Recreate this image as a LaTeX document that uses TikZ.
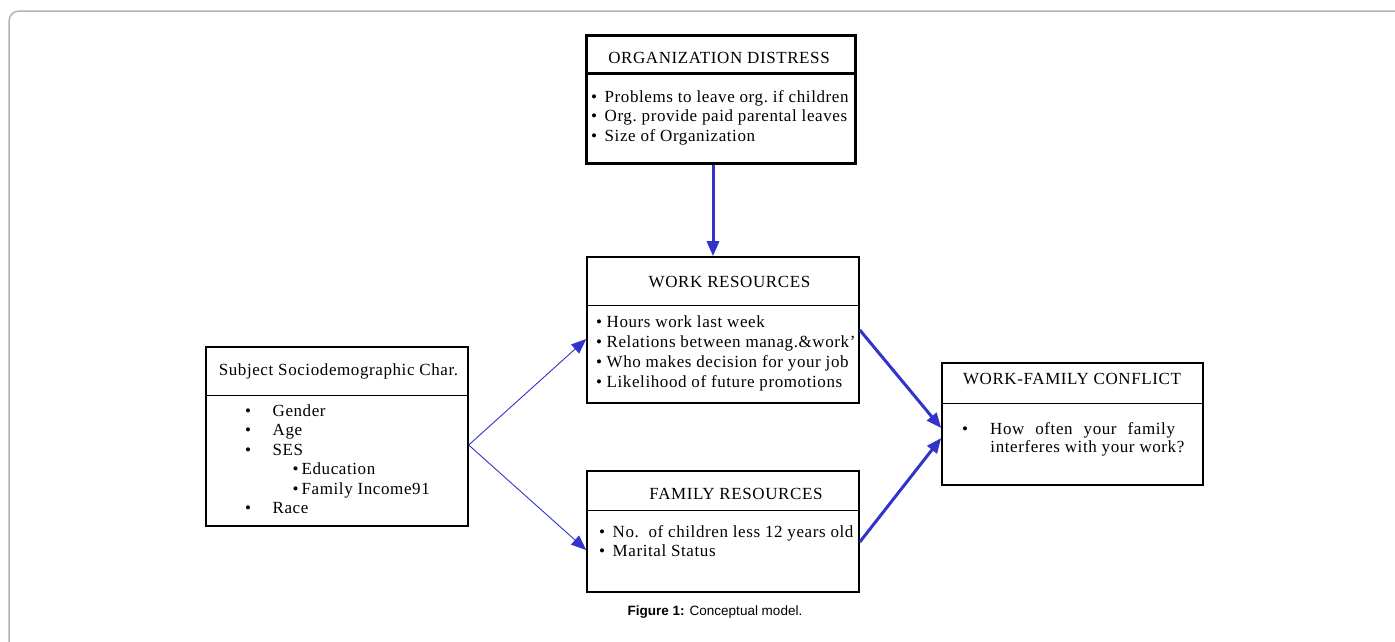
\documentclass[tikz,border=0pt]{standalone}
\usepackage{fontspec}
\setmainfont{Liberation Serif}[LetterSpace=3.5]
\newfontfamily\capfont{Liberation Sans}
\usetikzlibrary{calc, arrows.meta}

\definecolor{linkblue}{HTML}{3333CC}
\definecolor{framegray}{HTML}{B4B4B4}
\newcommand{\bul}[1]{\textbullet\hspace{#1}}

\tikzset{
  box/.style={draw, line width=1.6pt, inner sep=0pt},
  heading/.style={font=\fontsize{17}{19}\selectfont, inner sep=0pt, anchor=base},
  items/.style={font=\fontsize{17}{19.5}\selectfont, align=left, inner sep=0pt, anchor=north west},
  link/.style={draw=linkblue, -{Triangle[length=15pt,width=12pt]}},
}

\begin{document}
\begin{tikzpicture}[x=1pt, y=-1pt]
\useasboundingbox (0,0) rectangle (1395,641);
% Draw frame
\draw[framegray, line width=1.5pt, rounded corners=10pt] (9,642) -- (9,11) -- (1396,11);
% Draw boxes
\node[box, line width=3pt, minimum width=269pt, minimum height=128pt] (org) at (720.5,99) {};
\node[box, minimum width=272pt, minimum height=146pt] (work) at (723,330) {};
\node[box, line width=1.4pt, minimum width=262pt, minimum height=179pt] (subj) at (337,436.5) {};
\node[box, minimum width=272pt, minimum height=121pt] (fam) at (723,531.5) {};
\node[box, minimum width=261pt, minimum height=122pt] (wfc) at (1072.5,424) {};
% Draw dividers
\draw[line width=3pt] ($(org.north west)+(0,40)$) -- ($(org.north east)+(0,40)$);
\draw[line width=1.4pt] ($(work.north west)+(0,49)$) -- ($(work.north east)+(0,49)$);
\draw[line width=1.4pt] ($(subj.north west)+(0,49)$) -- ($(subj.north east)+(0,49)$);
\draw[line width=1.4pt] ($(fam.north west)+(0,40)$) -- ($(fam.north east)+(0,40)$);
\draw[line width=1.4pt] ($(wfc.north west)+(0,41)$) -- ($(wfc.north east)+(0,41)$);
% Headings
\node[heading] (orgtitle) at (719,63.5) {ORGANIZATION DISTRESS};
\node[heading] (worktitle) at (729.5,287.5) {WORK RESOURCES};
\node[heading] (subjtitle) at (338.5,375) {Subject Sociodemographic Char.};
\node[heading] (famtitle) at (736,499.5) {FAMILY RESOURCES};
\node[heading] (wfctitle) at (1072,384.5) {WORK-FAMILY CONFLICT};
% Item lists
\node[items] (orglist) at (591,90) {\bul{7.5pt}Problems to leave org.\ if children\\
  \bul{7.5pt}Org.\ provide paid parental leaves\\
  \bul{7.5pt}Size of Organization};
\node[items, font=\fontsize{17}{20}\selectfont] (worklist) at (596,315) {\bul{4.5pt}Hours\ work\ last week\\
  \bul{4.5pt}Relations between manag.\&work'\\
  \bul{4.5pt}Who makes\ decision\ for your job\\
  \bul{4.5pt}Likelihood of future\ promotions};
\node[items] (subjlist) at (245,404) {\bul{21.5pt}Gender\\
  \bul{21.5pt}Age\\
  \bul{21.5pt}SES\\
  \hspace*{47.5pt}\bul{3pt}Education\\
  \hspace*{47.5pt}\bul{3pt}Family\ Income91\\
  \bul{21.5pt}Race};
\node[items] (famlist) at (599,525) {\bul{7.5pt}No.\ \ of children less 12\ years\ old\\
  \bul{7.5pt}Marital\ Status};
\node[items, font=\fontsize{17}{18}\selectfont] (wfclist) at (962,422) {\bul{22pt}How\hspace{11pt}often\hspace{11pt}your\hspace{11pt}family\\
  \hspace*{28.25pt}interferes with your work?};
% Draw connectors
\coordinate (orgout) at ($(org.south)+(-7.5,0)$);
\draw[link, line width=3pt] (orgout) -- (orgout |- work.north);
\draw[link, line width=0.9pt] ($(subj.east)+(0,8.5)$) -- ($(work.west)+(0,9)$);
\draw[link, line width=0.9pt] ($(subj.east)+(0,8.5)$) -- ($(fam.west)+(0,18.5)$);
\draw[link, line width=3pt] (work.east) -- ($(wfc.west)+(0,4)$);
\draw[link, line width=3pt] ($(fam.east)+(0,10.5)$) -- ($(wfc.west)+(0,14)$);
% Caption
\node[font=\capfont\fontsize{13.5}{16}\selectfont] (caption) at (715,612) {\textbf{Figure 1:} Conceptual model.};
\end{tikzpicture}
\end{document}
